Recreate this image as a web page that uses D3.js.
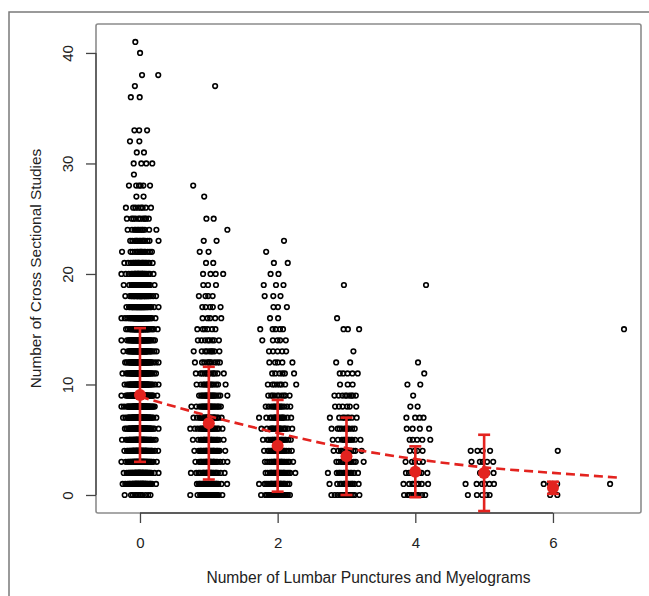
<!DOCTYPE html>
<html>
  <head>
    <meta charset="utf-8"/>
    <style>
      body { margin: 0; background: white; }
      text { font-family: "Liberation Sans", Arial, sans-serif; fill: #222; }
    </style>
    <script src="https://d3js.org/d3.v7.min.js"></script>
  </head>
  <body>
    <script>
    // number of patients at each y value (index = number of cross sectional studies)
    var groups = [0, 1, 2, 3, 4, 5, 6, 7];
    var counts0 = [12,45,50,55,60,60,65,65,65,65,60,55,55,50,50,45,40,35,30,25,25,20,15,15,12,10,8,2,6,1,4,2,2,3,0,0,2,1,2,0,1,1];
    var counts1 = [22,28,28,26,26,25,25,24,22,20,14,12,10,9,8,6,5,5,4,3,4,2,2,2,1,2,0,1,1,0,0,0,0,0,0,0,0,1];
    var counts2 = [28,26,25,24,22,20,18,16,14,10,8,6,5,5,5,5,2,3,3,3,2,2,1,1];
    var counts3 = [16,15,15,14,12,12,10,8,6,9,3,5,2,1,0,3,1,0,0,1];
    var counts4 = [10,8,8,5,4,5,4,4,2,1,2,1,1,0,0,0,0,0,0,1];
    var counts5 = [5,6,4,5,4];
    var counts6 = [2,4,0,0,1];
    var counts7 = [0,1,0,0,0,0,0,0,0,0,0,0,0,0,0,1];
    var allCounts = [counts0, counts1, counts2, counts3, counts4, counts5, counts6, counts7];

    // group means and standard deviations (red)
    var meanX = [0, 1, 2, 3, 4, 5, 6];
    var meanY = [9.05, 6.5, 4.45, 3.5, 2.1, 2.0, 0.65];
    var sdY = [6.05, 5.1, 4.15, 3.5, 2.3, 3.45, 0.55];

    // fitted curve (dashed)
    var fitX = [0, 1, 2, 3, 4, 5, 6, 7];
    var fitY = [8.9, 7.15, 5.6, 4.25, 3.25, 2.5, 2.0, 1.55];

    var xTicks = [0, 2, 4, 6];
    var yTicks = [0, 10, 20, 30, 40];

    var width = 649, height = 596;
    var box = {left: 96, right: 641, top: 24, bottom: 513};
    var red = "#e3231f";

    var svg = d3.select("body").append("svg")
      .attr("width", width).attr("height", height);

    var x = d3.scaleLinear().domain([-0.639, 7.279]).range([box.left, box.right]);
    var y = d3.scaleLinear().domain([-1.63, 42.62]).range([box.bottom, box.top]);

    // outer frame of the figure
    svg.append("rect")
      .attr("x", 9).attr("y", 12).attr("width", 700).attr("height", 700)
      .attr("fill", "none").attr("stroke", "#7a7a7a").attr("stroke-width", 1.5);

    // horizontal jitter: deterministic normal quantiles
    function qnorm(p) { return 4.91 * (Math.pow(p, 0.14) - Math.pow(1 - p, 0.14)); }
    var phi = 0.6180339887;
    var pts = [];
    allCounts.forEach(function(cnt, gi) {
      cnt.forEach(function(n, yv) {
        var seed = (yv * 0.754877 + gi * 0.569840) % 1;
        for (var i = 0; i < n; i++) {
          var p = (seed + (i + 0.5) * phi) % 1;
          p = Math.min(0.995, Math.max(0.005, p));
          pts.push({x: groups[gi] + 0.105 * qnorm(p), y: yv});
        }
      });
    });

    svg.append("g").selectAll("circle")
      .data(pts).enter().append("circle")
      .attr("cx", d => x(d.x)).attr("cy", d => y(d.y)).attr("r", 2.3)
      .attr("fill", "none").attr("stroke", "#000").attr("stroke-width", 1.6);

    // plot box
    svg.append("rect")
      .attr("x", box.left).attr("y", box.top)
      .attr("width", box.right - box.left).attr("height", box.bottom - box.top)
      .attr("rx", 2).attr("fill", "none").attr("stroke", "#8c8c8c").attr("stroke-width", 1.6);

    // axes
    var xAxis = svg.append("g").attr("transform", "translate(0," + box.bottom + ")")
      .call(d3.axisBottom(x).tickValues(xTicks).tickSize(10).tickFormat(d3.format("d")));
    xAxis.select(".domain").remove();
    xAxis.append("line").attr("x1", x(xTicks[0])).attr("x2", x(xTicks[xTicks.length - 1]))
      .attr("stroke", "#444").attr("stroke-width", 1.3);
    xAxis.selectAll(".tick line").attr("stroke", "#444").attr("stroke-width", 1.3);
    xAxis.selectAll(".tick text").attr("y", 24).attr("dy", "0.71em")
      .style("font-size", "15px").style("font-family", "Liberation Sans, Arial, sans-serif").attr("fill", "#1a1a1a");

    var yAxis = svg.append("g").attr("transform", "translate(" + box.left + ",0)")
      .call(d3.axisLeft(y).tickValues(yTicks).tickSize(10).tickFormat(d3.format("d")));
    yAxis.select(".domain").remove();
    yAxis.append("line").attr("y1", y(yTicks[0])).attr("y2", y(yTicks[yTicks.length - 1]))
      .attr("stroke", "#444").attr("stroke-width", 1.3);
    yAxis.selectAll(".tick line").attr("stroke", "#444").attr("stroke-width", 1.3);
    yAxis.selectAll(".tick text")
      .attr("x", null).attr("dy", null)
      .attr("text-anchor", "middle")
      .attr("transform", "translate(-23,0) rotate(-90)")
      .style("font-size", "15px").style("font-family", "Liberation Sans, Arial, sans-serif").attr("fill", "#1a1a1a");

    // error bars
    var eb = svg.append("g").attr("stroke", red).attr("stroke-width", 2.6);
    meanX.forEach(function(mx, i) {
      var lo = meanY[i] - sdY[i], hi = meanY[i] + sdY[i];
      eb.append("line").attr("x1", x(mx)).attr("x2", x(mx)).attr("y1", y(lo)).attr("y2", y(hi));
      eb.append("line").attr("x1", x(mx) - 6).attr("x2", x(mx) + 6).attr("y1", y(lo)).attr("y2", y(lo));
      eb.append("line").attr("x1", x(mx) - 6).attr("x2", x(mx) + 6).attr("y1", y(hi)).attr("y2", y(hi));
    });

    // dashed fit
    var line = d3.line().x(d => x(d[0])).y(d => y(d[1])).curve(d3.curveMonotoneX);
    svg.append("path")
      .datum(fitX.map((v, i) => [v, fitY[i]]))
      .attr("d", line).attr("fill", "none")
      .attr("stroke", red).attr("stroke-width", 2.6).attr("stroke-dasharray", "9,5");

    // means
    svg.append("g").selectAll("circle")
      .data(meanX).enter().append("circle")
      .attr("cx", d => x(d)).attr("cy", (d, i) => y(meanY[i])).attr("r", 6)
      .attr("fill", red);

    // axis titles
    svg.append("text")
      .attr("x", (box.left + box.right) / 2).attr("y", 583)
      .attr("text-anchor", "middle").style("font-size", "15.6px")
      .text("Number of Lumbar Punctures and Myelograms");
    svg.append("text")
      .attr("transform", "translate(41," + (box.top + box.bottom) / 2 + ") rotate(-90)")
      .attr("text-anchor", "middle").style("font-size", "15.4px")
      .text("Number of Cross Sectional Studies");
    </script>
  </body>
</html>
